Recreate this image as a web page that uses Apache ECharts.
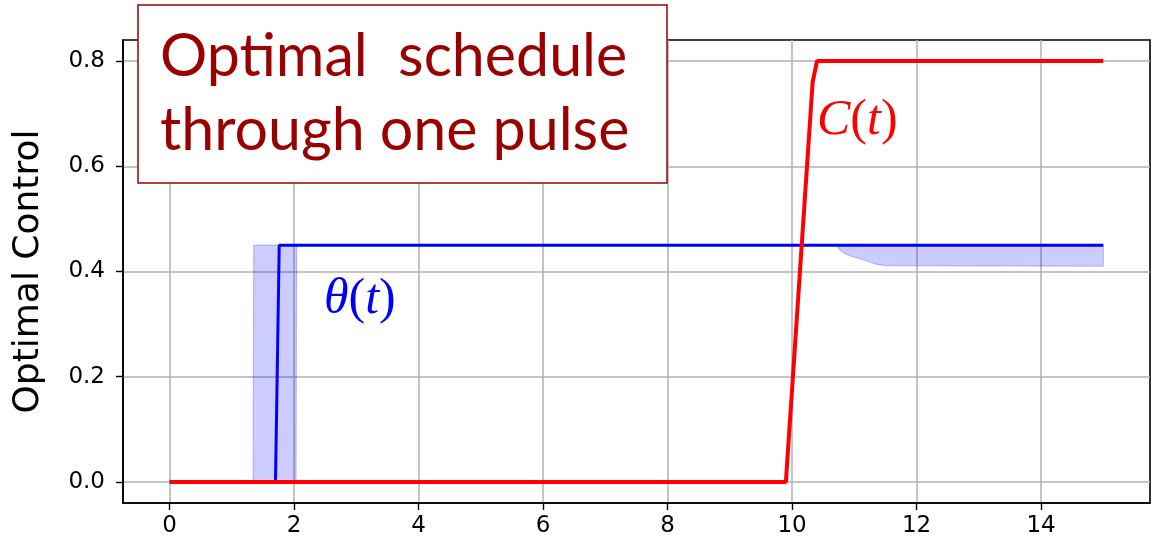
<!DOCTYPE html>
<html>
<head>
<meta charset="utf-8">
<script src="https://cdn.jsdelivr.net/npm/echarts@6/dist/echarts.min.js"></script>
<style>
  html, body { margin: 0; padding: 0; background: #fff; }
  #chart { width: 1157px; height: 550px; }
</style>
</head>
<body>
<div id="chart"></div>
<script>
// Tick positions
const xTicks = [0, 2, 4, 6, 8, 10, 12, 14];
const yTicks = [0, 0.2, 0.4, 0.6, 0.8];

// theta(t): optimal pulse schedule
const thetaLine = [[0, 0], [1.70, 0], [1.76, 0.45], [15, 0.45]];

// Spread band around theta(t)
const bandT     = [0, 1.34, 1.35, 2.03, 2.04, 10.70, 10.78, 10.85, 10.92, 11.00, 11.10, 11.20, 11.35, 11.50, 15];
const bandLower = [0, 0,    0,    0,    0.45, 0.45,  0.440, 0.434, 0.430, 0.427, 0.424, 0.420, 0.414, 0.411, 0.410];
const bandUpper = [0, 0,    0.45, 0.45, 0.45, 0.45,  0.45,  0.45,  0.45,  0.45,  0.45,  0.45,  0.45,  0.45,  0.45];

// C(t): optimal control ramp
const cLine = [[0, 0], [9.90, 0], [10.33, 0.76], [10.40, 0.8], [15, 0.8]];

const chart = echarts.init(document.getElementById('chart'), null, { renderer: 'canvas' });

const bandData = bandT.map((t, i) => [t, bandLower[i], bandUpper[i]]);

const axisFont = 'DejaVu Sans';
const frameLine = { show: true, onZero: false, lineStyle: { color: '#000', width: 1.6 } };

chart.setOption({
  animation: false,
  backgroundColor: '#fff',
  grid: {
    left: 123, right: 7, top: 40, bottom: 47,
    outerBoundsMode: 'none',
    show: true, borderColor: '#000', borderWidth: 1.6, backgroundColor: 'transparent'
  },
  xAxis: {
    type: 'value', min: -0.75, max: 15.75,
    axisLine: frameLine,
    axisTick: { show: true, customValues: xTicks, length: 7, lineStyle: { color: '#000', width: 1.4 } },
    axisLabel: {
      customValues: xTicks, margin: 12, color: '#000',
      fontFamily: axisFont, fontSize: 23
    },
    splitLine: { show: true, lineStyle: { color: '#b0b0b0', width: 1.5 } }
  },
  yAxis: {
    type: 'value', min: -0.04, max: 0.84,
    name: 'Optimal Control', nameLocation: 'middle', nameGap: 76, nameRotate: 90,
    nameTextStyle: { fontFamily: axisFont, fontSize: 36, color: '#000' },
    axisLine: frameLine,
    axisTick: { show: true, customValues: yTicks, length: 7, lineStyle: { color: '#000', width: 1.4 } },
    axisLabel: {
      customValues: yTicks, margin: 18, color: '#000',
      fontFamily: axisFont, fontSize: 23,
      formatter: v => v.toFixed(1)
    },
    splitLine: { show: true, lineStyle: { color: '#b0b0b0', width: 1.5 } }
  },
  series: [
    {
      type: 'custom',
      name: 'theta band',
      data: bandData,
      encode: { x: 0, y: [1, 2] },
      z: 2,
      renderItem: (params, api) => {
        if (params.dataIndex !== 0) return null;
        const pts = [];
        for (let i = 0; i < bandData.length; i++) pts.push(api.coord([bandData[i][0], bandData[i][2]]));
        for (let i = bandData.length - 1; i >= 0; i--) pts.push(api.coord([bandData[i][0], bandData[i][1]]));
        return {
          type: 'polygon',
          shape: { points: pts },
          style: { fill: 'rgba(0,0,255,0.2)', stroke: 'rgba(0,0,255,0.22)', lineWidth: 1.2 }
        };
      }
    },
    {
      type: 'line', name: 'theta', data: thetaLine, z: 3,
      showSymbol: false, symbol: 'none',
      lineStyle: { color: '#0000ff', width: 3 }
    },
    {
      type: 'line', name: 'C', data: cLine, z: 4,
      showSymbol: false, symbol: 'none',
      lineStyle: { color: '#ff0000', width: 4 }
    }
  ],
  graphic: [
    {
      type: 'rect', z: 100,
      shape: { x: 138, y: 5, width: 529, height: 178 },
      style: { fill: '#fff', stroke: '#9b0000', lineWidth: 1.5 }
    },
    {
      type: 'text', z: 101, x: 160, y: 57, scaleX: 0.985,
      style: {
        text: 'Optimal  schedule', fill: '#9b0000',
        font: '60px Lato', textVerticalAlign: 'middle'
      }
    },
    {
      type: 'text', z: 101, x: 160, y: 131, scaleX: 0.985,
      style: {
        text: 'through one pulse', fill: '#9b0000',
        font: '60px Lato', textVerticalAlign: 'middle'
      }
    },
    {
      type: 'text', z: 101, x: 817, y: 121,
      style: {
        text: '{i|C}{r|(}{i|t}{r|)}', textVerticalAlign: 'middle',
        rich: {
          i: { fontFamily: 'Liberation Serif', fontStyle: 'italic', fontSize: 50, fill: '#ff0000' },
          r: { fontFamily: 'Liberation Serif', fontSize: 50, fill: '#ff0000' }
        }
      }
    },
    {
      type: 'text', z: 101, x: 324, y: 300,
      style: {
        text: '{i|θ}{r|(}{i|t}{r|)}', textVerticalAlign: 'middle',
        rich: {
          i: { fontFamily: 'Liberation Serif', fontStyle: 'italic', fontSize: 50, fill: '#0000ff' },
          r: { fontFamily: 'Liberation Serif', fontSize: 50, fill: '#0000ff' }
        }
      }
    }
  ]
});
</script>
</body>
</html>
